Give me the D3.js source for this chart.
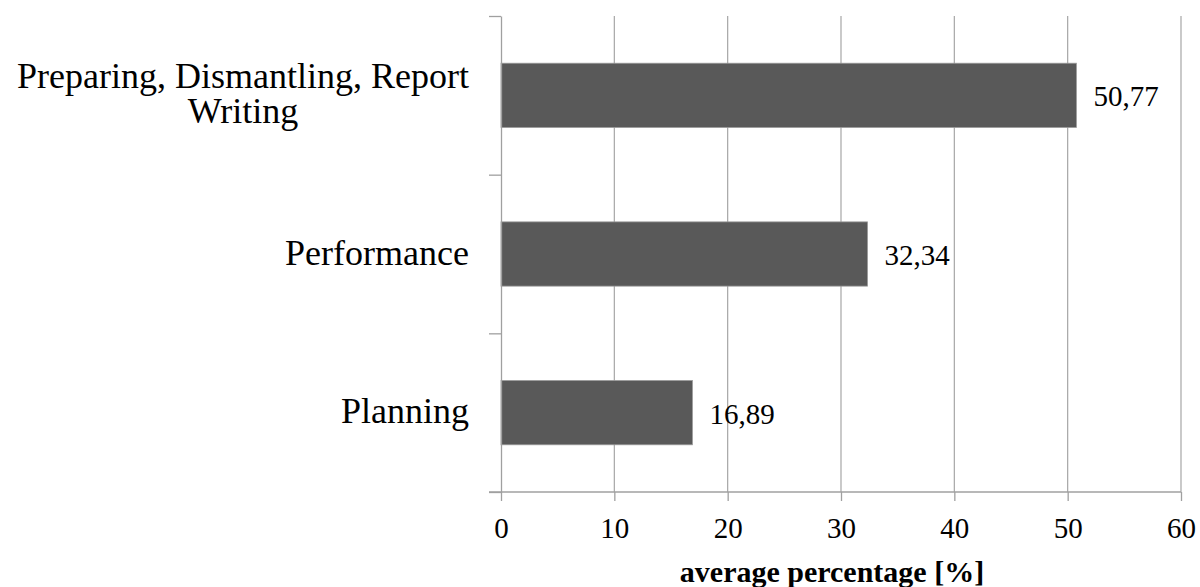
<!DOCTYPE html>
<html>
<head>
<meta charset="utf-8">
<script src="https://cdn.jsdelivr.net/npm/d3@7"></script>
<style>
  body { margin: 0; background: #fff; }
  svg { display: block; }
  text { font-family: "Liberation Serif", "Times New Roman", serif; fill: #000; }
</style>
</head>
<body>
<svg id="chart"></svg>
<script>
// data (top to bottom)
var categories = [["Preparing, Dismantling, Report", "Writing"], ["Performance"], ["Planning"]];
var values = [50.77, 32.34, 16.89];
var valueLabels = ["50,77", "32,34", "16,89"];
var xTicks = [0, 10, 20, 30, 40, 50, 60];
var xTitle = "average percentage [%]";

(function () {
    var width = 1200, height = 587;
    var pLeft = 501, pRight = 1181, pTop = 16, pBottom = 492;

    var svg = d3.select("#chart").attr("width", width).attr("height", height);

    // scales
    var x = d3.scaleLinear().domain([0, 60]).range([pLeft, pRight]);
    var y = d3.scaleBand().domain(d3.range(categories.length)).range([pTop, pBottom]).padding(0);
    var yEdge = d3.scaleLinear().domain([0, categories.length]).range([pTop, pBottom]);
    var barH = y.bandwidth() * 0.405;

    // vertical grid lines
    svg.append("g").selectAll("line")
        .data(xTicks.filter(function (d) { return d > 0; }))
        .enter().append("line")
        .attr("x1", function (d) { return x(d); })
        .attr("x2", function (d) { return x(d); })
        .attr("y1", pTop).attr("y2", pBottom)
        .attr("stroke", "#a6a6a6").attr("stroke-width", 1.2);

    // bars
    svg.append("g").selectAll("rect")
        .data(values)
        .enter().append("rect")
        .attr("x", x(0))
        .attr("y", function (d, i) { return y(i) + (y.bandwidth() - barH) / 2; })
        .attr("width", function (d) { return x(d) - x(0); })
        .attr("height", barH)
        .attr("fill", "#595959")
        .attr("stroke", "#9a9a9a").attr("stroke-width", 0.8);

    // value labels
    svg.append("g").selectAll("text")
        .data(values)
        .enter().append("text")
        .attr("x", function (d) { return x(d) + 17; })
        .attr("y", function (d, i) { return y(i) + y.bandwidth() / 2 + 11; })
        .style("font-size", "29px")
        .text(function (d, i) { return valueLabels[i]; });

    // x axis
    var xAxis = svg.append("g")
        .attr("transform", "translate(0," + pBottom + ")")
        .call(d3.axisBottom(x).tickValues(xTicks).tickSize(9).tickSizeOuter(0));
    xAxis.select(".domain").attr("stroke", "#a0a0a0").attr("stroke-width", 1.3)
        .attr("d", "M" + (pLeft - 12) + ",0H" + pRight);
    xAxis.selectAll(".tick line").attr("stroke", "#a0a0a0").attr("stroke-width", 1.3);
    xAxis.selectAll(".tick text").attr("y", 46).attr("dy", 0)
        .style("font-size", "29px").style("font-family", "Liberation Serif, serif");

    // y axis (ticks at category boundaries)
    var yAxis = svg.append("g")
        .attr("transform", "translate(" + pLeft + ",0)")
        .call(d3.axisLeft(yEdge).tickValues(d3.range(categories.length + 1)).tickSize(12).tickSizeOuter(0).tickFormat(""));
    yAxis.select(".domain").attr("stroke", "#a0a0a0").attr("stroke-width", 1.3);
    yAxis.selectAll(".tick line").attr("stroke", "#a0a0a0").attr("stroke-width", 1.3);

    // category labels, right aligned block, lines centred
    var labelRight = 469, lineH = 35;
    categories.forEach(function (lines, i) {
        var g = svg.append("g");
        var cy = y(i) + y.bandwidth() / 2;
        var texts = lines.map(function (s, j) {
            return g.append("text")
                .style("font-size", "36px")
                .attr("text-anchor", "middle")
                .attr("y", cy + 10.5 + (j - (lines.length - 1) / 2) * lineH)
                .text(s);
        });
        var maxW = d3.max(texts, function (t) { return t.node().getComputedTextLength(); });
        texts.forEach(function (t) { t.attr("x", labelRight - maxW / 2); });
    });

    // axis title
    svg.append("text")
        .attr("x", 832).attr("y", 582)
        .attr("text-anchor", "middle")
        .style("font-size", "30px").style("font-weight", "bold")
        .text(xTitle);
})();
</script>
</body>
</html>
